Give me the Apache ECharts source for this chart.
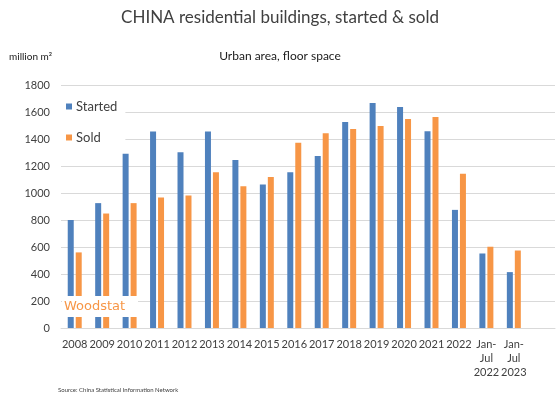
<!DOCTYPE html>
<html><head><meta charset="utf-8">
<script src="https://cdn.jsdelivr.net/npm/echarts@6/dist/echarts.min.js"></script>
<style>html,body{margin:0;padding:0;background:#fff}#c{width:560px;height:394px}</style>
</head><body><div id="c"></div>
<script>
const categories = ['2008','2009','2010','2011','2012','2013','2014','2015','2016','2017','2018','2019','2020','2021','2022','Jan-\nJul\n2022','Jan-\nJul\n2023',''];
const started = [800, 925, 1290, 1455, 1302, 1455, 1245, 1063, 1154, 1275, 1526, 1667, 1637, 1457, 875, 552, 414];
const sold = [560, 848, 925, 966, 981, 1154, 1050, 1119, 1373, 1442, 1474, 1497, 1548, 1563, 1142, 602, 574];
const yTicks = {min: 0, max: 1800, interval: 200};
const FONT = 'Lato, "Open Sans", sans-serif';
const chart = echarts.init(document.getElementById('c'));
chart.setOption({
  animation: false,
  backgroundColor: '#fff',
  title: [
    {text: 'CHINA residential buildings, started & sold', left: 'center', top: 4,
     textStyle: {fontSize: 17, fontWeight: 'normal', color: '#404040', fontFamily: FONT}},
    {text: 'Urban area, floor space', left: 'center', top: 45,
     textStyle: {fontSize: 12, fontWeight: 'normal', color: '#202020', fontFamily: FONT}},
    {text: 'million m²', left: 4, top: 47,
     textStyle: {fontSize: 10, fontWeight: 'normal', color: '#202020', fontFamily: FONT}},
    {text: 'Source: China Statistical Information Network', left: 53, top: 382,
     textStyle: {fontSize: 6, fontWeight: 'normal', color: '#404040', fontFamily: FONT}}
  ],
  legend: {
    orient: 'vertical', left: 61, top: 95, padding: [5, 8, 5, 5],
    backgroundColor: '#fff',
    itemWidth: 6, itemHeight: 6, itemGap: 18,
    icon: 'rect',
    textStyle: {fontSize: 13, color: '#404040', fontFamily: FONT, padding: [0, 0, 0, -1]},
    data: ['Started', 'Sold']
  },
  grid: {left: 61, right: 5, top: 85, bottom: 66, containLabel: false},
  xAxis: {
    type: 'category', data: categories,
    axisTick: {show: false},
    axisLine: {lineStyle: {color: '#d9d9d9'}},
    axisLabel: {interval: 0, fontSize: 11, color: '#404040', lineHeight: 14, margin: 9, fontFamily: FONT}
  },
  yAxis: {
    type: 'value', min: yTicks.min, max: yTicks.max, interval: yTicks.interval,
    axisLine: {show: false}, axisTick: {show: false},
    splitLine: {lineStyle: {color: '#d9d9d9'}},
    axisLabel: {fontSize: 11, color: '#404040', margin: 11, fontFamily: FONT,
                formatter: function (v) { return String(v); }}
  },
  series: [
    {name: 'Started', type: 'bar', data: started, barWidth: 6, barGap: '33%',
     itemStyle: {color: '#4F81BD'}},
    {name: 'Sold', type: 'bar', data: sold, barWidth: 6, barGap: '33%',
     itemStyle: {color: '#F79646'}}
  ],
  graphic: [
    {type: 'rect', left: 62, top: 296, z: 100, shape: {width: 76, height: 21}, style: {fill: '#fff'}},
    {type: 'text', left: 64, top: 300, z: 101,
     style: {text: 'Woodstat', fill: '#F79646', fontSize: 13, fontFamily: 'DejaVu Sans'}}
  ]
});
</script></body></html>
